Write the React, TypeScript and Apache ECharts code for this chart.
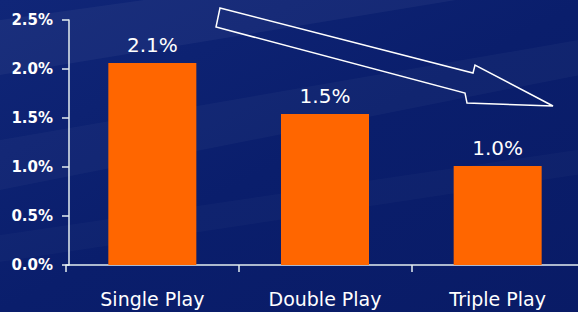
import React, { useEffect, useRef } from "react";
import * as echarts from "echarts";

const categories = ["Single Play", "Double Play", "Triple Play"];
const values = [2.06, 1.54, 1.01];
const yTicks = [0, 0.5, 1.0, 1.5, 2.0, 2.5];

export default function App() {
  const ref = useRef<HTMLDivElement>(null);
  useEffect(() => {
    if (!ref.current) return;
    const chart = echarts.init(ref.current, null, { renderer: "svg" });
    const font = "DejaVu Sans";
    chart.setOption({
      animation: false,
      backgroundColor: {
        type: "linear",
        x: 0,
        y: 0,
        x2: 1,
        y2: 1,
        colorStops: [
          { offset: 0, color: "#102678" },
          { offset: 0.5, color: "#0a1e6c" },
          { offset: 1, color: "#091b66" },
        ],
      },
      graphic: [
        {
          type: "polygon",
          z: -1,
          shape: { points: [[0, 20], [590, -62], [590, -22], [0, 75]] },
          style: { fill: "rgba(255,255,255,0.045)" },
        },
        {
          type: "polygon",
          z: -1,
          shape: { points: [[0, 140], [590, 38], [590, 73], [0, 190]] },
          style: { fill: "rgba(255,255,255,0.03)" },
        },
        {
          type: "polygon",
          z: -1,
          shape: { points: [[0, 235], [590, 148], [590, 173], [0, 262]] },
          style: { fill: "rgba(255,255,255,0.025)" },
        },
        {
          type: "polygon",
          z: 5,
          shape: {
            points: [
              [220, 8],
              [473, 73],
              [475, 65],
              [553, 106],
              [467, 103],
              [465, 93],
              [216, 27],
            ],
          },
          style: { fill: "none", stroke: "#ffffff", lineWidth: 1.5 },
        },
      ],
      grid: { left: 66, width: 518, top: 20, bottom: 47, containLabel: false },
      xAxis: {
        type: "category",
        data: categories,
        axisLine: { lineStyle: { color: "#e4eef0", width: 1.5 } },
        axisTick: { show: true, length: 7, lineStyle: { color: "#e4eef0", width: 1.5 } },
        axisLabel: { color: "#ffffff", fontSize: 19, fontFamily: font, margin: 24 },
      },
      yAxis: {
        type: "value",
        min: 0,
        max: 2.5,
        interval: 0.5,
        offset: -3,
        splitLine: { show: false },
        axisLine: { show: true, lineStyle: { color: "#e4eef0", width: 1.5 } },
        axisTick: { show: true, length: 7, lineStyle: { color: "#e4eef0", width: 1.5 } },
        axisLabel: {
          color: "#ffffff",
          fontSize: 15,
          fontWeight: "bold",
          fontFamily: font,
          margin: 16,
          formatter: (v: number) => (yTicks.includes(v) ? v.toFixed(1) + "%" : ""),
        },
      },
      series: [
        {
          type: "bar",
          data: values,
          barWidth: 88,
          itemStyle: { color: "#ff6600" },
          label: {
            show: true,
            position: "top",
            distance: 8,
            color: "#ffffff",
            fontSize: 20,
            fontFamily: font,
            formatter: (p: any) => p.value.toFixed(1) + "%",
          },
        },
      ],
    });
    return () => chart.dispose();
  }, []);
  return (
    <div
      style={{
        position: "fixed",
        left: 0,
        top: 0,
        width: 578,
        height: 312,
        overflow: "hidden",
      }}
    >
      <div ref={ref} style={{ width: 590, height: 312 }} />
    </div>
  );
}
